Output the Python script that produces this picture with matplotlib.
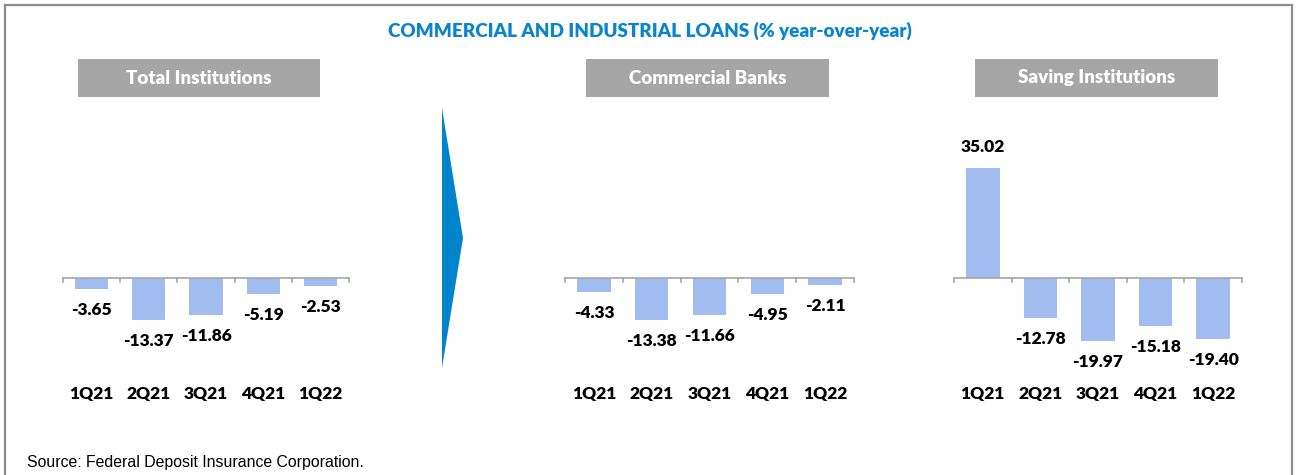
import matplotlib
matplotlib.use("Agg")
import matplotlib.pyplot as plt
from matplotlib.patches import Polygon, Rectangle
from matplotlib.lines import Line2D
from matplotlib.transforms import blended_transform_factory

# Data
quarters = ["1Q21", "2Q21", "3Q21", "4Q21", "1Q22"]
total_institutions = [-3.65, -13.37, -11.86, -5.19, -2.53]
commercial_banks = [-4.33, -13.38, -11.66, -4.95, -2.11]
saving_institutions = [35.02, -12.78, -19.97, -15.18, -19.40]
panel_titles = ["Total Institutions", "Commercial Banks", "Saving Institutions"]
chart_title = "COMMERCIAL AND INDUSTRIAL LOANS (% year-over-year)"
source_note = "Source: Federal Deposit Insurance Corporation."

W, H = 1298, 475
fig = plt.figure(figsize=(W / 100, H / 100), dpi=100)
fig.patch.set_facecolor("white")

BAR = "#A1BDF0"
AXIS = "#A6A6A6"
BLUE = "#0A84CF"
FONT = "Lato"
HEAVY = "heavy"


def px_axes(x, y, w, h):
    return fig.add_axes([x / W, 1 - (y + h) / H, w / W, h / H])


def fx(x):
    return x / W


def fy(y):
    return 1 - y / H


# Outer frame (open at the bottom)
frame_kw = dict(color="#8C8C8C", lw=1.6, transform=fig.transFigure)
fig.add_artist(Line2D([fx(5), fx(1292)], [fy(5), fy(5)], **frame_kw))
fig.add_artist(Line2D([fx(5), fx(5)], [fy(5), fy(H)], **frame_kw))
fig.add_artist(Line2D([fx(1292), fx(1292)], [fy(5), fy(H)], **frame_kw))

# Title
fig.text(fx(650), fy(31), chart_title, color=BLUE, fontsize=13.6,
         fontweight=HEAVY, family=FONT, ha="center", va="center")

# Panels: (axes left, axes right, header box left, header box right)
panels = [
    (63, 349, 78, 320, total_institutions),
    (565, 854, 586, 829, commercial_banks),
    (954, 1242, 975, 1218, saving_institutions),
]

TOP, BOT, ZERO = 130, 370, 278
SCALE = 3.15  # pixels per percentage point
ymax = (ZERO - TOP) / SCALE
ymin = -(BOT - ZERO) / SCALE

for (x0, x1, b0, b1, values), title in zip(panels, panel_titles):
    # Header box
    fig.add_artist(Rectangle((fx(b0), fy(97)), fx(b1 - b0), (97 - 59) / H,
                             transform=fig.transFigure, facecolor="#A6A6A6",
                             edgecolor="none"))
    fig.text(fx((b0 + b1) / 2), fy(78), title, color="white", fontsize=13.5,
             fontweight=HEAVY, family=FONT, ha="center", va="center")

    ax = px_axes(x0, TOP, x1 - x0, BOT - TOP)
    ax.set_xlim(-0.5, len(values) - 0.5)
    ax.set_ylim(ymin, ymax)
    ax.axis("off")
    xs = list(range(len(values)))
    ax.bar(xs, values, width=0.58, color=BAR, zorder=2)

    # Category axis at zero with boundary ticks
    ax.plot([-0.5, len(values) - 0.5], [0, 0], color=AXIS, lw=1.2, zorder=3,
            clip_on=False)
    tick_len = 4 / SCALE
    for b in [i - 0.5 for i in range(len(values) + 1)]:
        ax.plot([b, b], [0, -tick_len], color=AXIS, lw=1.2, zorder=3,
                clip_on=False)

    for x, v in zip(xs, values):
        off = 21 if v >= 0 else -21
        ax.annotate(f"{v:.2f}", (x, v), xytext=(0, off),
                    textcoords="offset pixels", ha="center", va="center",
                    fontsize=12.5, fontweight=HEAVY, family=FONT, color="black")

    tr = blended_transform_factory(ax.transData, fig.transFigure)
    for x, q in zip(xs, quarters):
        ax.text(x, fy(394), q, transform=tr, ha="center", va="center",
                fontsize=12.5, fontweight=HEAVY, family=FONT, color="black")

# Connecting arrow between the total and the breakdown panels
fig.add_artist(Polygon([(fx(442), fy(108)), (fx(463), fy(238)),
                        (fx(442), fy(368))], closed=True,
                       transform=fig.transFigure, facecolor="#0085CC",
                       edgecolor="none"))

fig.text(fx(27), fy(463), source_note, fontsize=11.4, family="Liberation Sans",
         ha="left", va="center", color="black")

fig.savefig("out.png", dpi=100)
